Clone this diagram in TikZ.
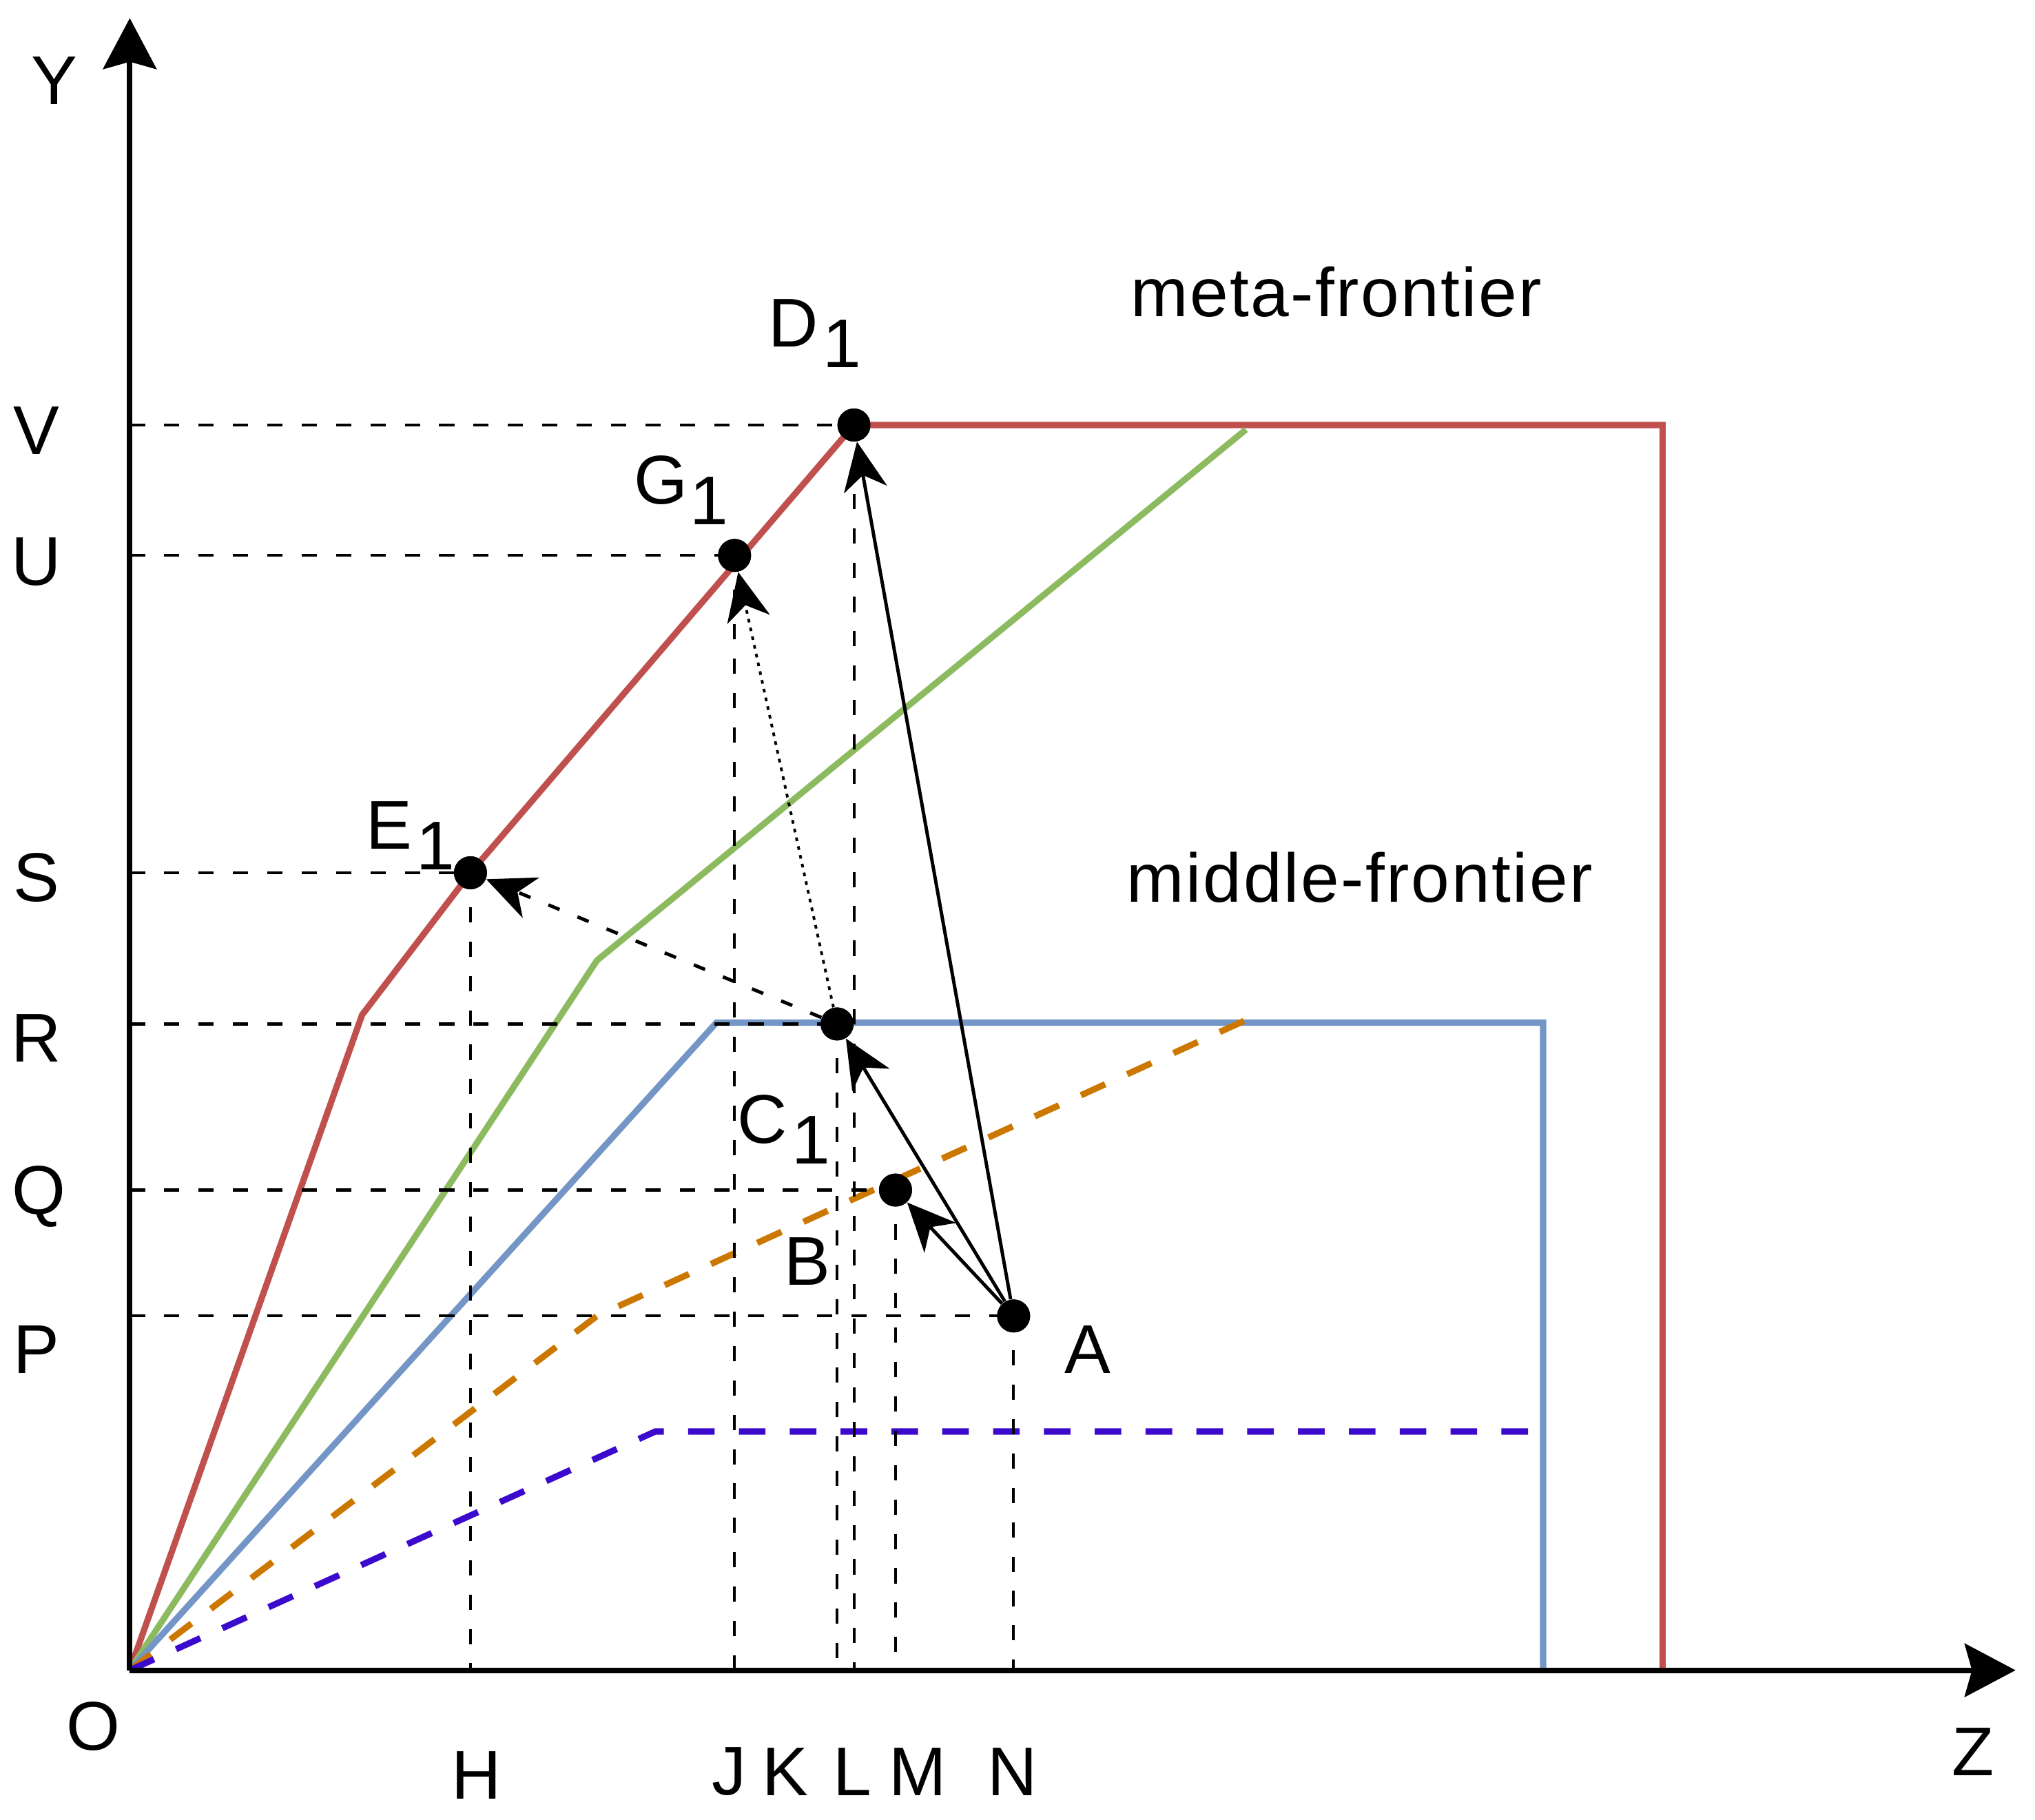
\documentclass[tikz,border=0pt]{standalone}
\usepackage{fontspec}
\setmainfont{Liberation Sans}
\usetikzlibrary{arrows.meta}
\definecolor{cred}{RGB}{192,80,77}
\definecolor{cgreen}{RGB}{140,187,95}
\definecolor{cblue}{RGB}{115,150,198}
\definecolor{corange}{RGB}{204,120,0}
\definecolor{cpurple}{RGB}{60,10,205}
\begin{document}
\begin{tikzpicture}[x=0.01884cm,y=-0.01884cm,
  font=\fontsize{28.5}{34}\selectfont,
  axis/.style={line width=2.3pt,-{Stealth[length=21pt,width=22pt,inset=3pt]}},
  frontier/.style={line width=2.6pt,line join=miter},
  dashfront/.style={line width=2.6pt,dash pattern=on 11pt off 10pt},
  guide/.style={line width=1.2pt,dash pattern=on 6.3pt off 7.9pt},
  dot/.style={circle,fill=black,inner sep=0pt,minimum size=0.48cm},
  arr/.style={line width=1.4pt,-{Stealth[length=20pt,width=18pt,inset=6pt]}},
  dashedarr/.style={arr,dash pattern=on 5pt off 8pt},
  dottedarr/.style={arr,line width=1.1pt,dash pattern=on 1.5pt off 2.2pt},
  lbl/.style={inner sep=0pt}]
\useasboundingbox (0,0) rectangle (1568,1402);

% coordinates
\coordinate (O) at (100,1287);
\coordinate (Ytip) at (100,14);
\coordinate (Ztip) at (1553,1287);

% points
\node[dot] (D1) at (658,327.5) {};
\node[dot] (G1) at (566,428) {};
\node[dot] (E1) at (362.5,672.5) {};
\node[dot] (C) at (645,789) {};
\node[dot] (B) at (690,917) {};
\node[dot] (A) at (781,1014) {};

% frontier kinks
\coordinate (r1) at (279,782);
\coordinate (r2) at (1281,327.5);
\coordinate (r3) at (1281,1287);
\coordinate (g1) at (460,740);
\coordinate (g2) at (960,331);
\coordinate (b1) at (552,788);
\coordinate (b2) at (1189,788);
\coordinate (b3) at (1189,1287);
\coordinate (o1) at (460,1014);
\coordinate (o2) at (960,786);
\coordinate (p1) at (505,1103);
\coordinate (p2) at (1188,1103);

% frontiers
\draw[frontier,cred] (O) -- (r1) -- (E1.center) -- (D1.center) -- (r2) -- (r3);
\draw[frontier,cgreen] (O) -- (g1) -- (g2);
\draw[frontier,cblue] (O) -- (b1) -- (b2) -- (b3);
\draw[dashfront,corange] (O) -- (o1) -- (o2);
\draw[dashfront,cpurple] (O) -- (p1) -- (p2);

% guide lines
\draw[guide] (O |- D1) -- (D1.center);
\draw[guide] (O |- G1) -- (G1.center);
\draw[guide] (O |- E1) -- (E1.center);
\draw[guide] (O |- C) -- (C.center);
\draw[guide] (O |- B) -- (B.center);
\draw[guide] (O |- A) -- (A.center);
\draw[guide] (E1.center) -- (E1 |- O);
\draw[guide] (G1.center) -- (G1 |- O);
\draw[guide] (C.center) -- (C |- O);
\draw[guide] (D1.center) -- (D1 |- O);
\draw[guide] (B.center) -- (B |- O);
\draw[guide] (A.center) -- (A |- O);

% axes
\draw[axis] (O) -- (Ytip);
\draw[axis] (O) -- (Ztip);

% arrows
\draw[arr] (A) -- (D1);
\draw[arr] (A) -- (C);
\draw[arr] (A) -- (B);
\draw[dashedarr] (C) -- (E1);
\draw[dottedarr] (C) -- (G1);

% redraw dots on top
\foreach \p in {D1,G1,E1,C,B,A} \fill (\p) circle (12.7);

% axis labels
\node[lbl] (lY) at (42,62) {Y};
\node[lbl] (lV) at (28,332) {V};
\node[lbl] (lU) at (28,433) {U};
\node[lbl] (lS) at (28,676) {S};
\node[lbl] (lR) at (28,800) {R};
\node[lbl] (lQ) at (30,922) {Q};
\node[lbl] (lP) at (28,1040) {P};
\node[lbl] (lO) at (72,1330) {O};
\node[lbl] (lH) at (367,1368) {H};
\node[lbl] (lJ) at (562,1365) {J};
\node[lbl] (lK) at (605,1365) {K};
\node[lbl] (lL) at (657,1365) {L};
\node[lbl] (lM) at (707,1365) {M};
\node[lbl] (lN) at (780,1365) {N};
\node[lbl] (lZ) at (1520,1350) {Z};

% point labels
\node[lbl,anchor=base west] (tD) at (592,267) {D\kern0.06em\raisebox{-0.3em}{1}};
\node[lbl,anchor=base west] (tG) at (488,388.5) {G\kern0.04em\raisebox{-0.3em}{1}};
\node[lbl,anchor=base west] (tE) at (282,654) {E\kern0.06em\raisebox{-0.3em}{1}};
\node[lbl,anchor=base west] (tC) at (568,881) {C\kern0.06em\raisebox{-0.3em}{1}};
\node[lbl] (tB) at (622,972) {B};
\node[lbl] (tA) at (838,1040) {A};

% frontier labels
\node[lbl,anchor=base west] (meta) at (871,244) {\addfontfeature{LetterSpace=2.4}meta-frontier};
\node[lbl,anchor=base west] (middle) at (868,695) {\addfontfeature{LetterSpace=2.6}middle-frontier};
\end{tikzpicture}
\end{document}
